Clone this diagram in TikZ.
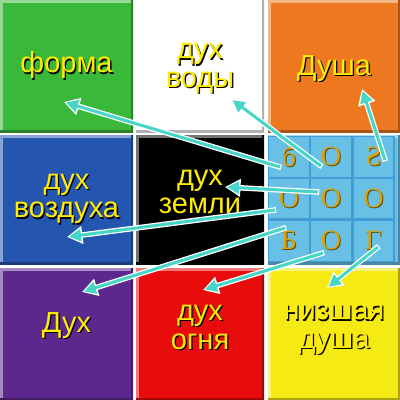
\documentclass[tikz,border=0pt]{standalone}
\usepackage{fontspec}
\setmainfont{Liberation Sans}
\newfontfamily\cellfont{Liberation Serif}
\usetikzlibrary{arrows.meta}

\definecolor{tgreen}{RGB}{58,184,58}
\definecolor{torange}{RGB}{238,120,32}
\definecolor{tblue}{RGB}{36,86,176}
\definecolor{tpurple}{RGB}{92,40,142}
\definecolor{tred}{RGB}{232,12,12}
\definecolor{tyellow}{RGB}{245,234,20}
\definecolor{cblue}{RGB}{104,192,230}
\definecolor{cedge}{RGB}{66,158,214}
\definecolor{txt}{RGB}{255,236,0}
\definecolor{gold}{RGB}{214,164,18}
\definecolor{acyan}{RGB}{70,214,200}

% testo giallo con ombra nera
\newcommand{\sh}[1]{\leavevmode\rlap{\hspace{1.3pt}\raisebox{-1.3pt}{\color{black}#1}}{\color{txt}#1}}
% lettere dorate della griglia
\newcommand{\gl}[1]{\leavevmode\rlap{\hspace{1pt}\raisebox{-1pt}{\color{gold!45!black}#1}}{\color{gold}#1}}

\begin{document}
\begin{tikzpicture}[x=1pt, y=-1pt,
    tile/.style={fill=#1, inner sep=0pt, path picture={
        \draw[#1!55!white, line width=5pt] (path picture bounding box.south west) -- (path picture bounding box.north west) -- (path picture bounding box.north east);
        \draw[#1!70!black, line width=5pt] (path picture bounding box.north east) -- (path picture bounding box.south east) -- (path picture bounding box.south west);}},
    tlabel/.style={align=center, inner sep=0pt, font=\fontsize{29}{28.5}\selectfont},
    cell/.style={fill=cblue, draw=cedge, line width=1.2pt, inner sep=0pt, minimum width=41pt, minimum height=41pt, font=\cellfont\fontsize{28}{28}\selectfont},
    arr/.style={draw=acyan, line width=3pt, shorten >=2pt, -{Triangle[length=12pt,width=12pt]},
        preaction={draw=white, line width=5.5pt, shorten >=0pt, shorten <=-1.2pt, -{Triangle[length=15.5pt,width=17pt]}}}]

    % Sfondo
    \fill[white] (0,0) rectangle (400,400);
    \useasboundingbox (0,0) rectangle (400,400);

    % Riquadri: prima riga
    \node[tile=tgreen, minimum width=133pt, minimum height=132pt] (tForma) at (66.5,66) {};
    \node[tile=white, minimum width=128pt, minimum height=132pt] (tVody) at (200,66) {};
    \node[tile=torange, minimum width=132pt, minimum height=132pt] (tDusha) at (334,66) {};
    % seconda riga
    \node[tile=tblue, minimum width=133pt, minimum height=129pt] (tVozd) at (66.5,199.5) {};
    \node[tile=black, minimum width=128pt, minimum height=129pt] (tZemli) at (200,199.5) {};
    \node[tile=cblue, minimum width=132pt, minimum height=129pt] (tBog) at (334,199.5) {};
    % terza riga
    \node[tile=tpurple, minimum width=133pt, minimum height=132pt] (tDukh) at (66.5,334) {};
    \node[tile=tred, minimum width=128pt, minimum height=132pt] (tOgnya) at (200,334) {};
    \node[tile=tyellow, minimum width=132pt, minimum height=132pt] (tNizsh) at (334,334) {};

    % Testi
    \node[tlabel] (forma) at (tForma) {\sh{форма}};
    \node[tlabel] (vody) at ([yshift=-3pt]tVody) {\sh{дух}\\\sh{воды}};
    \node[tlabel] (dusha) at ([yshift=-3pt]tDusha) {\sh{Душа}};
    \node[tlabel] (vozd) at (tVozd) {\sh{дух}\\\sh{воздуха}};
    \node[tlabel] (zemli) at ([yshift=7pt]tZemli) {\sh{дух}\\\sh{земли}};
    \node[tlabel] (dukh) at ([yshift=8pt]tDukh) {\sh{Дух}};
    \node[tlabel] (ognya) at ([yshift=6pt]tOgnya) {\sh{дух}\\\sh{огня}};
    \node[tlabel] (nizsh) at ([yshift=4pt]tNizsh) {\sh{низшая}\\\sh{душа}};

    % Griglia 3x3
    \node[cell] (b11) at (289,157) {\gl{б}};
    \node[cell] (b12) at (331,157) {\gl{О}};
    \node[cell] (b13) at (373.5,157) {\gl{\reflectbox{S}}};
    \node[cell] (b21) at (289,198.5) {\gl{О}};
    \node[cell] (b22) at (331,198.5) {\gl{О}};
    \node[cell] (b23) at (373.5,198.5) {\gl{О}};
    \node[cell] (b31) at (289,241) {\gl{Б}};
    \node[cell] (b32) at (331,241) {\gl{О}};
    \node[cell] (b33) at (373.5,241) {\gl{Г}};

    % Punte delle frecce
    \coordinate (hForma) at (64,102);
    \coordinate (hVody) at (231,99);
    \coordinate (hDusha) at (362,89);
    \coordinate (hZemli) at (225,187);
    \coordinate (hVozd) at (67,237);
    \coordinate (hDukh) at (82,292);
    \coordinate (hOgnya) at (203,290);
    \coordinate (hNizsh) at (327,288);

    % Frecce
    \draw[arr] ([shift={(-9,10)}]b11.center) -- (hForma);
    \draw[arr] ([shift={(-10,9)}]b12.center) -- (hVody);
    \draw[arr] ([shift={(11.5,3)}]b13.center) -- (hDusha);
    \draw[arr] ([shift={(-13,-6.5)}]b22.center) -- (hZemli);
    \draw[arr] ([shift={(-14,11.5)}]b21.center) -- (hVozd);
    \draw[arr] ([shift={(-4,-13)}]b31.center) -- (hDukh);
    \draw[arr] ([shift={(-8,12)}]b32.center) -- (hOgnya);
    \draw[arr] ([shift={(4.5,6)}]b33.center) -- (hNizsh);

\end{tikzpicture}
\end{document}
